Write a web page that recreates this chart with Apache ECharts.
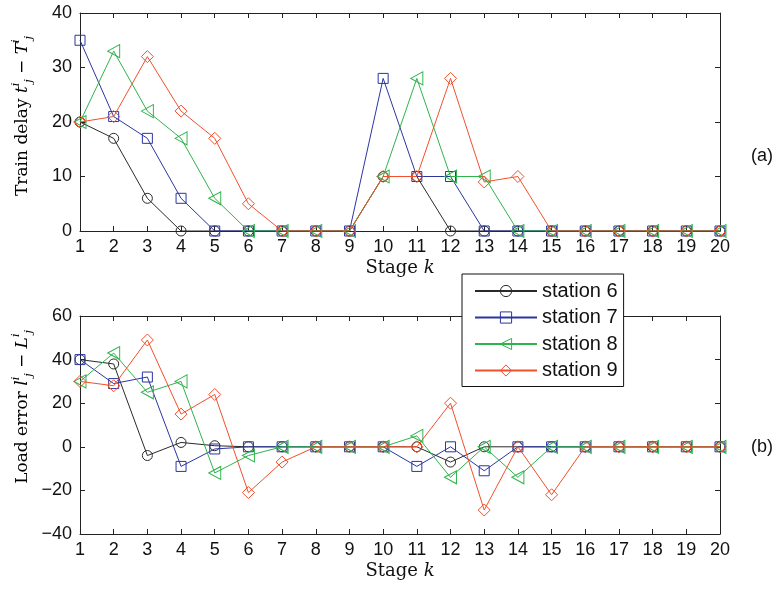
<!DOCTYPE html>
<html>
<head>
<meta charset="utf-8">
<script src="https://cdn.jsdelivr.net/npm/echarts@6/dist/echarts.min.js"></script>
<style>html,body{margin:0;padding:0;background:#fff}#c{width:775px;height:591px}</style>
</head>
<body>
<div id="c"></div>
<script>
const stages = [1,2,3,4,5,6,7,8,9,10,11,12,13,14,15,16,17,18,19,20];
const stationNames = ['station 6','station 7','station 8','station 9'];
const delay6 = [20,17,6,0,0,0,0,0,0,10,10,0,0,0,0,0,0,0,0,0];
const delay7 = [35,21,17,6,0,0,0,0,0,28,10,10,0,0,0,0,0,0,0,0];
const delay8 = [20,33,22,17,6,0,0,0,0,10,28,10,10,0,0,0,0,0,0,0];
const delay9 = [20,21,32,22,17,5,0,0,0,10,10,28,9,10,0,0,0,0,0,0];
const load6 = [40,38,-4,2,0.5,0,0,0,0,0,0,-7,0,0,0,0,0,0,0,0];
const load7 = [40,29,32,-9,-1,0,0,0,0,0,-9,0,-11,0,0,0,0,0,0,0];
const load8 = [30,43,25,30,-12,-4,0,0,0,0,5,-14,0,-14,0,0,0,0,0,0];
const load9 = [30,28,49,15,24,-21,-7,0,0,0,0,20,-29,0,-22,0,0,0,0,0];

const colors = ['#2a2a2a','#2b36a0','#2fb34c','#f2502c'];
const symbols = ['circle','rect','path://M0,5 L10,0 L10,10 Z','diamond'];
const symSizes = [10,10,[12,13],12];

const sans = 'Liberation Sans';
const serif = 'DejaVu Serif';
const axisColor = '#222';

function pairs(arr){ return stages.map((s,i)=>[s, arr[i]]); }
function hollow(idx){ return {color: 'rgba(255,255,255,0)', borderColor: colors[idx], borderWidth: 1}; }

function mkSeries(name, idx, arr, axisIdx){
  return {
    name: name, type: 'line', data: pairs(arr),
    xAxisIndex: axisIdx, yAxisIndex: axisIdx,
    symbol: symbols[idx], symbolSize: symSizes[idx], showAllSymbol: true,
    lineStyle: {color: colors[idx], width: 1},
    itemStyle: hollow(idx),
    emphasis: {disabled: true}, z: 2 + idx
  };
}

function xAx(gi, pos, showLabel){
  return {
    type: 'value', gridIndex: gi, position: pos, min: 1, max: 20, interval: 1,
    axisLine: {show: true, onZero: false, lineStyle: {color: axisColor, width: 1}},
    axisTick: {show: true, inside: true, length: 5, lineStyle: {color: axisColor}},
    axisLabel: {show: showLabel, fontSize: 18, fontFamily: sans, color: '#111', margin: 7},
    splitLine: {show: false},
    name: showLabel ? '{r|Stage }{i|k}' : '', nameLocation: 'middle', nameGap: 28,
    nameTextStyle: {rich: {r: {fontFamily: serif, fontSize: 18, color: '#111'}, i: {fontFamily: serif, fontStyle: 'italic', fontSize: 18, color: '#111'}}}
  };
}
function yAx(gi, pos, showLabel, mn, mx, iv){
  return {
    type: 'value', gridIndex: gi, position: pos, min: mn, max: mx, interval: iv,
    axisLine: {show: true, onZero: false, lineStyle: {color: axisColor, width: 1}},
    axisTick: {show: true, inside: true, length: 5, lineStyle: {color: axisColor}},
    axisLabel: {show: showLabel, fontSize: 18, fontFamily: sans, color: '#111', margin: 8,
      formatter: v => String(v).replace('-', '\u2212')},
    splitLine: {show: false}
  };
}

const richY = {
  r: {fontFamily: serif, fontSize: 17, color: '#111', lineHeight: 24},
  i: {fontFamily: serif, fontStyle: 'italic', fontSize: 17, color: '#111', lineHeight: 24},
  sup: {fontFamily: serif, fontStyle: 'italic', fontSize: 11, color: '#111', verticalAlign: 'top', lineHeight: 24},
  sub: {fontFamily: serif, fontStyle: 'italic', fontSize: 11, color: '#111', verticalAlign: 'bottom', lineHeight: 24}
};

const chart = echarts.init(document.getElementById('c'), null, {renderer: 'canvas'});
chart.setOption({
  animation: false,
  backgroundColor: '#fff',
  grid: [
    {left: 80, right: 55, top: 13, height: 218},
    {left: 80, right: 55, top: 316, height: 218}
  ],
  xAxis: [xAx(0,'bottom',true), xAx(1,'bottom',true), xAx(0,'top',false), xAx(1,'top',false)],
  yAxis: [yAx(0,'left',true,0,40,10), yAx(1,'left',true,-40,60,20), yAx(0,'right',false,0,40,10), yAx(1,'right',false,-40,60,20)],
  legend: {
    data: stationNames.map((n, i) => ({name: n, itemStyle: hollow(i)})),
    orient: 'vertical', left: 462, top: 274,
    backgroundColor: '#fff', borderColor: '#111', borderWidth: 1, borderRadius: 0,
    padding: [7, 6, 6, 12], itemWidth: 62, itemHeight: 14, itemGap: 6.5,
    textStyle: {fontFamily: sans, fontSize: 20, color: '#111', lineHeight: 20},
    selectedMode: false, z: 10
  },
  series: [
    mkSeries(stationNames[0],0,delay6,0), mkSeries(stationNames[1],1,delay7,0),
    mkSeries(stationNames[2],2,delay8,0), mkSeries(stationNames[3],3,delay9,0),
    mkSeries(stationNames[0],0,load6,1), mkSeries(stationNames[1],1,load7,1),
    mkSeries(stationNames[2],2,load8,1), mkSeries(stationNames[3],3,load9,1)
  ],
  graphic: [
    {type: 'text', x: 23, y: 116, rotation: Math.PI/2, style: {text: '{r|Train delay }{i|t}{sup|i}{sub|j}{r| − }{i|T}{sup|i}{sub|j}', rich: richY, align: 'center', verticalAlign: 'middle'}},
    {type: 'text', x: 23, y: 407, rotation: Math.PI/2, style: {text: '{r|Load error }{i|l}{sup|i}{sub|j}{r| − }{i|L}{sup|i}{sub|j}', rich: richY, align: 'center', verticalAlign: 'middle'}},
    {type: 'text', x: 762, y: 156, style: {text: '(a)', fontFamily: sans, fontSize: 18, fill: '#111', align: 'center', verticalAlign: 'middle'}},
    {type: 'text', x: 762, y: 447, style: {text: '(b)', fontFamily: sans, fontSize: 18, fill: '#111', align: 'center', verticalAlign: 'middle'}}
  ]
});
</script>
</body>
</html>
